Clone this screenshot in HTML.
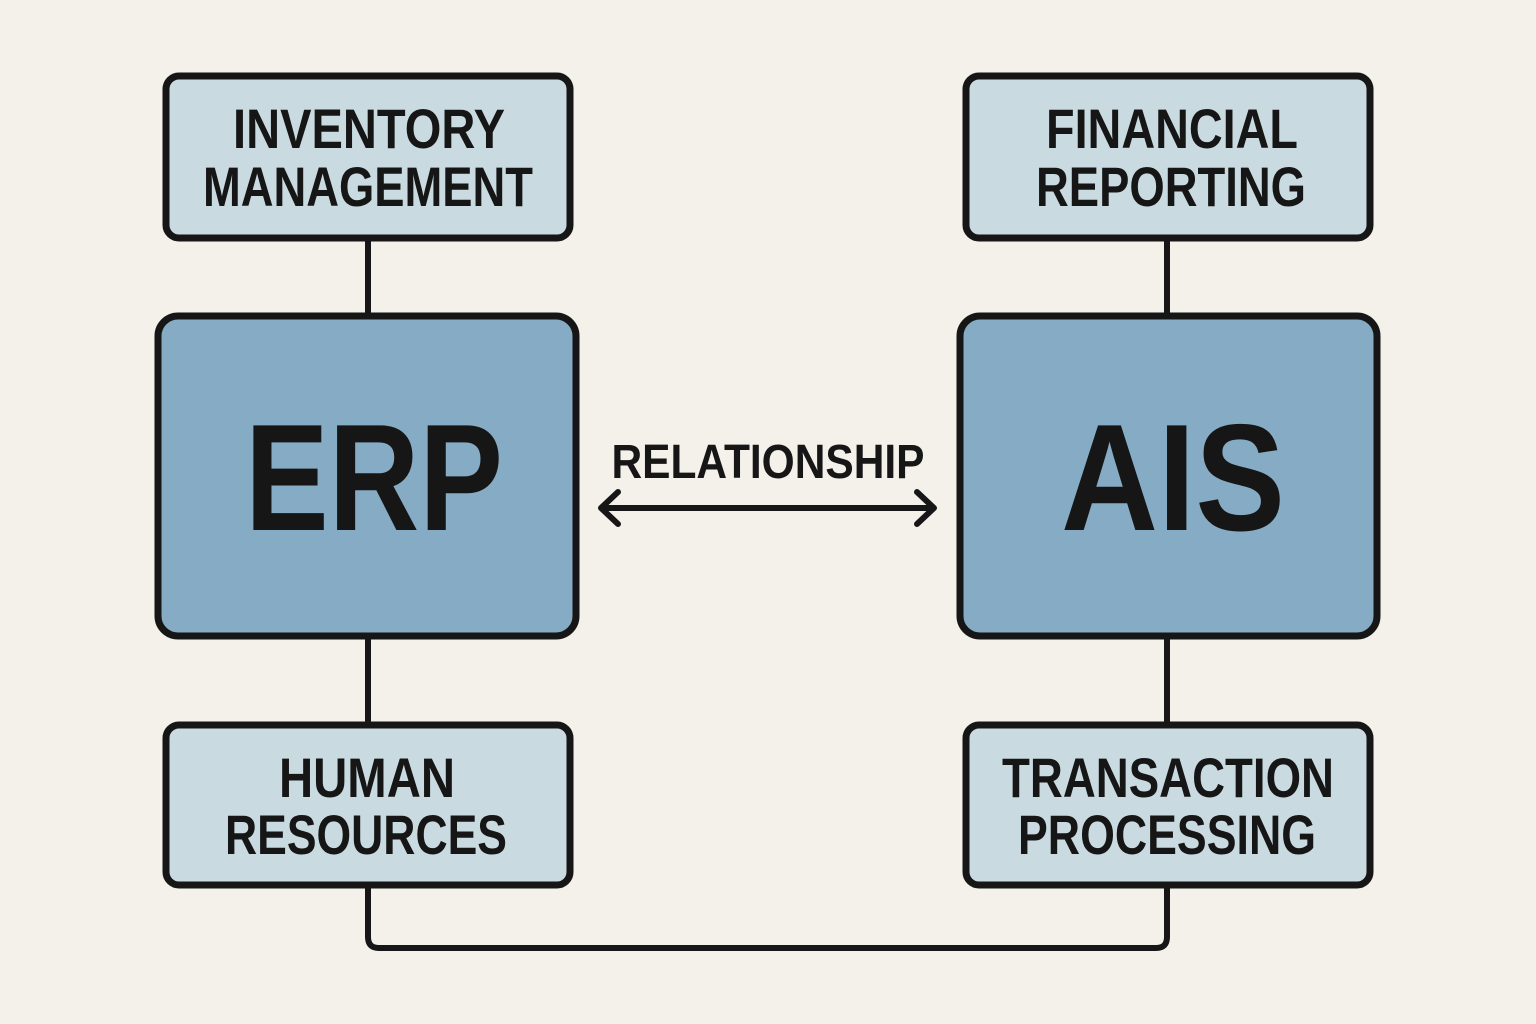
<!DOCTYPE html>
<html><head><meta charset="utf-8"><style>html,body{margin:0;padding:0;background:#f4f0ea}svg{display:block}</style></head>
<body>
<svg width="1536" height="1024" viewBox="0 0 1536 1024" xmlns="http://www.w3.org/2000/svg">
<rect width="1536" height="1024" fill="#f4f0ea"/>
<g stroke="#161616" stroke-width="6" fill="none">
<line x1="368" y1="240" x2="368" y2="315"/>
<line x1="1167" y1="240" x2="1167" y2="315"/>
<line x1="368" y1="636" x2="368" y2="724"/>
<line x1="1167" y1="636" x2="1167" y2="724"/>
<path d="M368 885 V937 Q368 948 379 948 H1156 Q1167 948 1167 937 V885"/>
<line x1="604" y1="508" x2="931" y2="508"/>
<path d="M618 492 L601 508 L618 524" stroke-linecap="round" stroke-linejoin="round"/>
<path d="M917 492 L934 508 L917 524" stroke-linecap="round" stroke-linejoin="round"/>
</g>
<g stroke="#161616" stroke-width="7">
<rect x="166" y="76" width="404" height="162" rx="13" fill="#c9dbe0"/>
<rect x="966" y="76" width="404" height="162" rx="13" fill="#c9dbe0"/>
<rect x="166" y="725" width="404" height="160" rx="13" fill="#c9dbe0"/>
<rect x="966" y="725" width="404" height="160" rx="13" fill="#c9dbe0"/>
<rect x="158" y="316" width="418" height="320" rx="20" fill="#86abc4"/>
<rect x="960" y="316" width="417" height="320" rx="20" fill="#86abc4"/>
</g>
<g font-family="Liberation Sans, sans-serif" font-weight="bold" fill="#161616" text-anchor="middle">
<text x="369" y="148" font-size="56" textLength="272" lengthAdjust="spacingAndGlyphs">INVENTORY</text>
<text x="368" y="206" font-size="56" textLength="330" lengthAdjust="spacingAndGlyphs">MANAGEMENT</text>
<text x="1172" y="148" font-size="56" textLength="252" lengthAdjust="spacingAndGlyphs">FINANCIAL</text>
<text x="1171" y="206" font-size="56" textLength="270" lengthAdjust="spacingAndGlyphs">REPORTING</text>
<text x="367" y="797" font-size="56" textLength="176" lengthAdjust="spacingAndGlyphs">HUMAN</text>
<text x="366" y="854" font-size="56" textLength="282" lengthAdjust="spacingAndGlyphs">RESOURCES</text>
<text x="1168" y="797" font-size="56" textLength="332" lengthAdjust="spacingAndGlyphs">TRANSACTION</text>
<text x="1167" y="854" font-size="56" textLength="298" lengthAdjust="spacingAndGlyphs">PROCESSING</text>
<text x="768" y="478" font-size="48" textLength="313" lengthAdjust="spacingAndGlyphs">RELATIONSHIP</text>
<text x="374" y="530" font-size="152" textLength="258" lengthAdjust="spacingAndGlyphs">ERP</text>
<text x="1173" y="530" font-size="152" textLength="224" lengthAdjust="spacingAndGlyphs">AIS</text>
</g>
</svg>
</body></html>
